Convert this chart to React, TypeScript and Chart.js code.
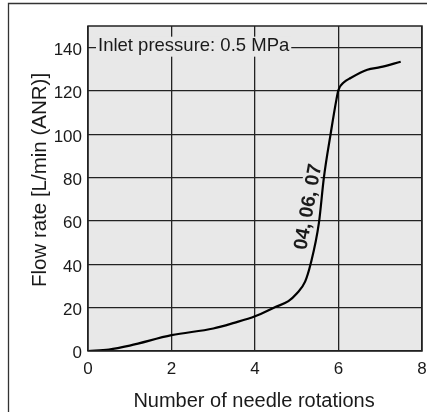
import React, { useEffect, useRef } from "react";
import { Chart, registerables } from "chart.js";

Chart.register(...registerables);

const rotations = [0, 0.5, 1, 2, 3, 3.5, 4, 4.5, 4.8, 5.0, 5.2, 5.33, 5.53, 5.65, 5.81, 5.95, 6.0, 6.13, 6.29, 6.69, 7.0, 7.49];
const flowRates = [0, 0.7, 2.5, 7.3, 10.4, 13, 16, 20.4, 23, 26.5, 32, 40, 59, 80, 100, 116, 120.5, 124, 126, 129.8, 131, 133.5];
const xTickValues = [0, 2, 4, 6, 8];
const yTickValues = [0, 20, 40, 60, 80, 100, 120, 140];
const xTitle = "Number of needle rotations";
const yTitle = "Flow rate [L/min (ANR)]";
const noteText = "Inlet pressure: 0.5 MPa";
const curveLabel = "04, 06, 07";

const FONT = '"Liberation Sans", Arial, Helvetica, sans-serif';
const PLOT_BG = "#e8e8e8";
const INK = "#1a1a1a";

const decorPlugin = {
  id: "decor",
  beforeDraw(chart: any) {
    const { ctx, chartArea: a } = chart;
    ctx.save();
    ctx.fillStyle = "#ffffff";
    ctx.fillRect(0, 0, chart.width, chart.height);
    ctx.fillStyle = PLOT_BG;
    ctx.fillRect(a.left, a.top, a.right - a.left, a.bottom - a.top);
    ctx.restore();
  },
  beforeDatasetsDraw(chart: any) {
    const { ctx, chartArea: a, scales } = chart;
    const x = scales.x;
    const y = scales.y;
    ctx.save();
    ctx.font = `18.5px ${FONT}`;
    const w = ctx.measureText(noteText).width;
    const tx = a.left + 10;
    const gy = y.getPixelForValue(140);
    ctx.fillStyle = PLOT_BG;
    ctx.fillRect(tx - 2, gy - 11, w + 4, 20);
    ctx.fillStyle = INK;
    ctx.textAlign = "left";
    ctx.textBaseline = "alphabetic";
    ctx.fillText(noteText, tx, gy + 3.5);
    ctx.translate(x.getPixelForValue(5.28), y.getPixelForValue(66.5));
    ctx.rotate((-80 * Math.PI) / 180);
    ctx.font = `bold 19.5px ${FONT}`;
    ctx.textAlign = "center";
    ctx.textBaseline = "middle";
    ctx.lineJoin = "round";
    ctx.strokeStyle = PLOT_BG;
    ctx.lineWidth = 5;
    ctx.strokeText(curveLabel, 0, 0);
    ctx.fillStyle = INK;
    ctx.fillText(curveLabel, 0, 0);
    ctx.restore();
  },
  afterDraw(chart: any) {
    const { ctx, chartArea: a } = chart;
    ctx.save();
    ctx.strokeStyle = "#222";
    ctx.lineWidth = 1.5;
    ctx.strokeRect(a.left, a.top, a.right - a.left, a.bottom - a.top);
    ctx.strokeStyle = "#333";
    ctx.lineWidth = 1.3;
    ctx.beginPath();
    ctx.moveTo(8.5, chart.height);
    ctx.lineTo(8.5, 3.5);
    ctx.lineTo(chart.width, 3.5);
    ctx.stroke();
    ctx.fillStyle = INK;
    ctx.font = `20px ${FONT}`;
    ctx.textAlign = "center";
    ctx.textBaseline = "alphabetic";
    ctx.fillText(xTitle, (a.left + a.right) / 2 - 1, 407);
    ctx.font = `20.5px ${FONT}`;
    ctx.translate(45.5, 180);
    ctx.rotate(-Math.PI / 2);
    ctx.fillText(yTitle, 0, 0);
    ctx.restore();
  },
};

export default function App() {
  const ref = useRef<HTMLCanvasElement | null>(null);
  useEffect(() => {
    if (!ref.current) return;
    const chart = new Chart(ref.current, {
      type: "scatter",
      data: {
        datasets: [
          {
            data: rotations.map((r, i) => ({ x: r, y: flowRates[i] })),
            showLine: true,
            borderColor: "#000",
            borderWidth: 2.2,
            pointRadius: 0,
            cubicInterpolationMode: "monotone",
            fill: false,
          },
        ],
      },
      options: {
        animation: false,
        responsive: false,
        devicePixelRatio: 1,
        layout: { padding: { top: 26, right: 5, left: 0, bottom: 0 } },
        plugins: { legend: { display: false }, tooltip: { enabled: false } },
        scales: {
          x: {
            type: "linear",
            min: 0,
            max: 8,
            afterBuildTicks: (s: any) => {
              s.ticks = xTickValues.map((v) => ({ value: v }));
            },
            afterFit: (s: any) => {
              s.height = 61;
              s.paddingLeft = 0;
              s.paddingRight = 0;
            },
            grid: { color: "#222", lineWidth: 1.3, drawTicks: false },
            border: { display: false },
            ticks: {
              padding: 8,
              color: INK,
              font: { family: FONT, size: 17 },
              maxRotation: 0,
            },
          },
          y: {
            type: "linear",
            min: 0,
            max: 150,
            afterBuildTicks: (s: any) => {
              s.ticks = yTickValues.map((v) => ({ value: v }));
            },
            afterFit: (s: any) => {
              s.width = 88;
              s.paddingTop = 0;
              s.paddingBottom = 0;
            },
            grid: { color: "#222", lineWidth: 1.3, drawTicks: false },
            border: { display: false },
            ticks: {
              padding: 6,
              labelOffset: 2.5,
              color: INK,
              font: { family: FONT, size: 17 },
            },
          },
        },
      },
      plugins: [decorPlugin],
    } as any);
    return () => chart.destroy();
  }, []);
  return (
    <div style={{ position: "fixed", left: 0, top: 0, width: 427, height: 412 }}>
      <canvas ref={ref} width={427} height={412} />
    </div>
  );
}
